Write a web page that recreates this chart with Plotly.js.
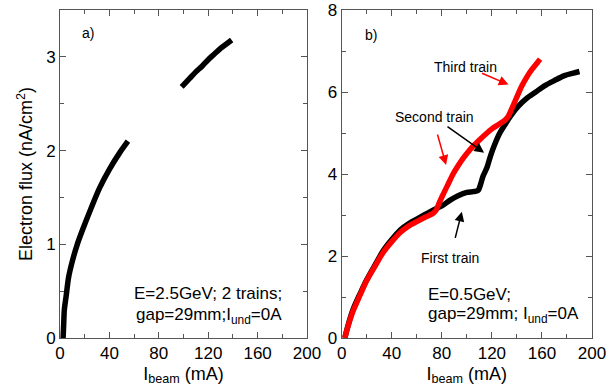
<!DOCTYPE html>
<html>
<head>
<meta charset="utf-8">
<script src="https://cdn.plot.ly/plotly-3.0.1.min.js"></script>
<style>body{margin:0;padding:0;background:#fff}#chart{width:610px;height:391px}</style>
</head>
<body>
<div id="chart"></div>
<script>
// Panel a) E=2.5 GeV, two trains
const aSeg1X = [2.5, 3, 3.5, 5, 7, 10, 14, 19, 25, 32, 40, 48, 55];
const aSeg1Y = [0, 0.15, 0.3, 0.45, 0.65, 0.82, 1.0, 1.18, 1.38, 1.6, 1.8, 1.97, 2.1];
const aSeg2X = [98.5, 105, 110, 115, 120, 125, 130, 135, 139];
const aSeg2Y = [2.68, 2.77, 2.84, 2.9, 2.97, 3.03, 3.09, 3.14, 3.18];

// Panel b) E=0.5 GeV
const bBlackX = [2.5, 5, 9, 15, 20, 27, 33, 40, 47, 54, 60, 67, 73, 80, 87, 93, 100, 105, 109, 111, 113, 116, 119, 122, 126, 130, 135, 141, 148, 155, 162, 170, 178, 185, 190];
const bBlackY = [0, 0.3, 0.69, 1.1, 1.42, 1.8, 2.12, 2.4, 2.64, 2.8, 2.9, 3.02, 3.12, 3.22, 3.37, 3.47, 3.55, 3.57, 3.6, 3.75, 3.95, 4.15, 4.45, 4.7, 4.98, 5.18, 5.42, 5.65, 5.85, 6.0, 6.15, 6.28, 6.4, 6.46, 6.5];
const bRedX = [2.5, 5, 9, 15, 20, 27, 33, 40, 47, 54, 60, 67, 72, 75, 78, 81, 85, 89, 93, 97, 100, 105, 110, 115, 120, 125, 130, 133, 136, 140, 144, 148, 152, 156, 158.5];
const bRedY = [0, 0.28, 0.65, 1.07, 1.4, 1.77, 2.08, 2.35, 2.58, 2.74, 2.84, 2.95, 3.02, 3.1, 3.3, 3.5, 3.75, 4.0, 4.2, 4.38, 4.5, 4.68, 4.83, 4.97, 5.1, 5.2, 5.3, 5.4, 5.6, 5.88, 6.15, 6.37, 6.55, 6.7, 6.8];

const xTickVals = [0, 40, 80, 120, 160, 200];
const yTickValsA = [0, 1, 2, 3];
const yTickValsB = [0, 2, 4, 6, 8];

const FONT = 'Liberation Sans, Arial, Helvetica, sans-serif';
const AX = '#555';

const LINE = (c) => ({color: c, width: 5.5, shape: 'spline', smoothing: 0.8});
const traces = [
  {x: aSeg1X, y: aSeg1Y, xaxis: 'x', yaxis: 'y', mode: 'lines', line: LINE('#000')},
  {x: aSeg2X, y: aSeg2Y, xaxis: 'x', yaxis: 'y', mode: 'lines', line: LINE('#000')},
  {x: bBlackX, y: bBlackY, xaxis: 'x2', yaxis: 'y2', mode: 'lines', line: LINE('#000')},
  {x: bRedX, y: bRedY, xaxis: 'x2', yaxis: 'y2', mode: 'lines', line: LINE('#ff0000')}
];

function axis(extra) {
  return Object.assign({
    showline: true, mirror: 'ticks', linecolor: AX, linewidth: 1,
    ticks: 'inside', ticklen: 6, tickcolor: AX, tickwidth: 1,
    showgrid: false, zeroline: false,
    tickfont: {family: FONT, size: 17, color: '#000'}
  }, extra);
}

const xTitle = {text: 'I<sub>beam</sub> (mA)', font: {family: FONT, size: 18, color: '#000'}, standoff: 4};
const TF = (s) => ({family: FONT, size: s, color: '#000'});
const ARW = {showarrow: true, arrowhead: 2, arrowsize: 1.3, arrowwidth: 1.5, standoff: 0};

const layout = {
  width: 610, height: 391,
  margin: {l: 60, r: 18, t: 10, b: 53},
  paper_bgcolor: '#fff', plot_bgcolor: '#fff',
  showlegend: false,
  font: {family: FONT, color: '#000'},
  xaxis: axis({domain: [0, 0.4643], range: [0, 200], tickvals: xTickVals, anchor: 'y',
    minor: {ticks: 'inside', ticklen: 4, dtick: 20, tickcolor: AX}, title: xTitle}),
  yaxis: axis({domain: [0, 1], range: [0, 3.5], tickvals: yTickValsA, anchor: 'x',
    minor: {ticks: 'inside', ticklen: 4, dtick: 0.5, tickcolor: AX},
    title: {text: 'Electron flux (nA/cm<sup>2</sup>)', font: TF(18), standoff: 8}}),
  xaxis2: axis({domain: [0.5295, 1], range: [0, 200], tickvals: xTickVals, anchor: 'y2',
    minor: {ticks: 'inside', ticklen: 4, dtick: 20, tickcolor: AX}, title: xTitle}),
  yaxis2: axis({domain: [0, 1], range: [0, 8], tickvals: yTickValsB, anchor: 'x2',
    minor: {ticks: 'inside', ticklen: 4, dtick: 1, tickcolor: AX}}),
  annotations: [
    {xref: 'x', yref: 'y', x: 22.9, y: 3.25, text: 'a)', showarrow: false, font: TF(14)},
    {xref: 'x2', yref: 'y2', x: 23.3, y: 7.38, text: 'b)', showarrow: false, font: TF(14)},
    {xref: 'x', yref: 'y', x: 181, y: 0.47, text: 'E=2.5GeV; 2 trains;', showarrow: false, xanchor: 'right', font: TF(17)},
    {xref: 'x', yref: 'y', x: 181, y: 0.24, text: 'gap=29mm;I<sub>und</sub>=0A', showarrow: false, xanchor: 'right', font: TF(17)},
    {xref: 'x2', yref: 'y2', x: 67, y: 1.05, text: 'E=0.5GeV;', showarrow: false, xanchor: 'left', font: TF(17)},
    {xref: 'x2', yref: 'y2', x: 67, y: 0.55, text: 'gap=29mm; I<sub>und</sub>=0A', showarrow: false, xanchor: 'left', font: TF(17)},
    // Third train: label + red arrow
    {xref: 'x2', yref: 'y2', x: 98.6, y: 6.62, text: 'Third train', showarrow: false, font: TF(14)},
    Object.assign({xref: 'x2', yref: 'y2', x: 133.3, y: 6.18, ax: -28, ay: -12, text: '', arrowcolor: '#ff0000'}, ARW),
    // Second train (black arrow from the text) + a second red arrow
    Object.assign({xref: 'x2', yref: 'y2', x: 113.8, y: 4.52, ax: -50, ay: -35.5, text: 'Second train', font: TF(14), arrowcolor: '#000'}, ARW),
    Object.assign({xref: 'x2', yref: 'y2', x: 83.4, y: 4.22, ax: -9, ay: -32, text: '', arrowcolor: '#ff0000'}, ARW),
    // First train (black arrow from the text)
    Object.assign({xref: 'x2', yref: 'y2', x: 96, y: 3.08, ax: -11.7, ay: 46.3, text: 'First train', font: TF(14), arrowcolor: '#000', startstandoff: 11}, ARW)
  ]
};

Plotly.newPlot('chart', traces, layout, {displayModeBar: false, staticPlot: true});
</script>
</body>
</html>
